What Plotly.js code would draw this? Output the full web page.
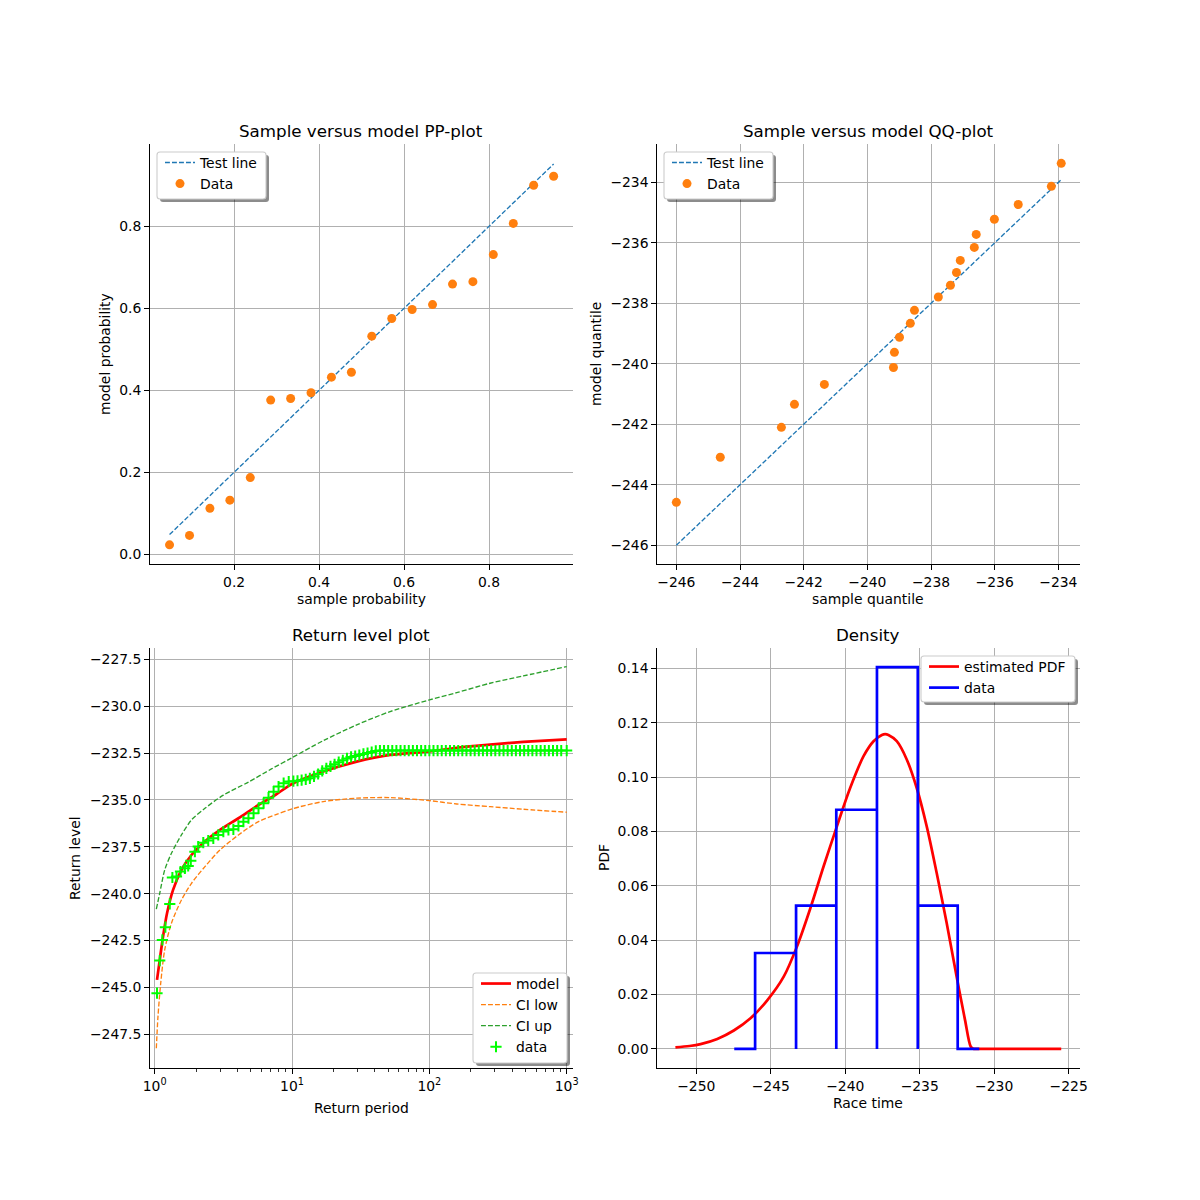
<!DOCTYPE html>
<html>
<head>
<meta charset="utf-8">
<script src="https://cdn.plot.ly/plotly-3.0.1.min.js"></script>
<style>
  body { margin: 0; background: #fff; }
  #chart { width: 1200px; height: 1200px; }
</style>
</head>
<body>
<div id="chart"></div>
<script>
// ---- PP-plot ----
var ppSample = [0.048, 0.095, 0.143, 0.190, 0.238, 0.286, 0.333, 0.381, 0.429, 0.476,
                0.524, 0.571, 0.619, 0.667, 0.714, 0.762, 0.810, 0.857, 0.905, 0.952];
var ppModel = [0.023, 0.046, 0.112, 0.132, 0.187, 0.376, 0.380, 0.394, 0.432, 0.444,
               0.532, 0.575, 0.597, 0.609, 0.659, 0.665, 0.731, 0.807, 0.900, 0.922];
var ppTestLine = [0.048, 0.952];
var ppTicks = [0.2, 0.4, 0.6, 0.8];
var ppYTicks = [0.0, 0.2, 0.4, 0.6, 0.8];

// ---- QQ-plot ----
var qqSample = [-246.00, -244.62, -242.70, -242.29, -241.35, -239.18, -239.15, -238.99, -238.65, -238.52,
                -237.77, -237.39, -237.20, -237.08, -236.64, -236.58, -236.01, -235.26, -234.22, -233.91];
var qqModel = [-244.58, -243.09, -242.10, -241.34, -240.68, -240.12, -239.62, -239.12, -238.66, -238.23,
               -237.79, -237.40, -236.98, -236.58, -236.15, -235.72, -235.22, -234.73, -234.13, -233.37];
var qqTestLine = [-246.0, -233.91];
var qqTicks = [-246, -244, -242, -240, -238, -236, -234];

// ---- Return level plot (return periods given as log10 values) ----
var rlModelLogT = [0.017, 0.037, 0.061, 0.090, 0.134, 0.195, 0.268, 0.366, 0.476, 0.610, 0.756,
                   0.878, 1.000, 1.228, 1.471, 1.714, 2.000, 2.199, 2.442, 2.684, 3.000];
var rlModel = [-244.60, -243.54, -242.29, -241.05, -239.80, -238.74, -237.94, -237.22, -236.60, -235.98, -235.27,
               -234.74, -234.15, -233.49, -232.96, -232.60, -232.42, -232.22, -232.05, -231.91, -231.77];
var rlCiUpLogT = [0.012, 0.037, 0.073, 0.122, 0.195, 0.268, 0.366, 0.500, 0.683, 0.850,
                  1.000, 1.228, 1.471, 1.714, 2.000, 2.199, 2.442, 2.684, 3.000];
var rlCiUp = [-240.83, -239.98, -238.74, -237.85, -236.87, -236.07, -235.45, -234.75, -234.05, -233.35,
              -232.75, -231.84, -231.00, -230.29, -229.67, -229.28, -228.78, -228.39, -227.89];
var rlCiLowLogT = [0.012, 0.024, 0.044, 0.073, 0.122, 0.195, 0.268, 0.366, 0.476, 0.610, 0.756, 0.878,
                   1.000, 1.228, 1.471, 1.714, 2.000, 2.199, 2.442, 2.684, 3.000];
var rlCiLow = [-248.25, -246.56, -244.78, -243.00, -241.58, -240.34, -239.45, -238.56, -237.67, -236.87, -236.16, -235.80,
               -235.48, -235.09, -234.91, -234.88, -235.04, -235.22, -235.36, -235.50, -235.66];
var rlDataLogT = [0.017, 0.037, 0.056, 0.078, 0.110, 0.129, 0.159, 0.188, 0.220, 0.244,
                  0.263, 0.293, 0.317, 0.354, 0.390, 0.427, 0.463, 0.500, 0.537, 0.573,
                  0.610, 0.646, 0.683, 0.720, 0.756, 0.793, 0.829, 0.866, 0.902, 0.939,
                  0.976, 1.010, 1.040, 1.070, 1.100, 1.130, 1.160, 1.190, 1.220, 1.250,
                  1.280, 1.310, 1.340, 1.370, 1.400, 1.430, 1.460, 1.490, 1.520, 1.550,
                  1.580, 1.610, 1.640, 1.670, 1.700, 1.730, 1.760, 1.790, 1.820, 1.850,
                  1.880, 1.910, 1.940, 1.970, 2.000, 2.030, 2.060, 2.090, 2.120, 2.150,
                  2.180, 2.210, 2.240, 2.270, 2.300, 2.330, 2.360, 2.390, 2.420, 2.450,
                  2.480, 2.510, 2.540, 2.570, 2.600, 2.630, 2.660, 2.690, 2.720, 2.750,
                  2.780, 2.810, 2.840, 2.870, 2.900, 2.930, 2.960, 3.000];
var rlData = [-245.31, -243.57, -242.47, -241.79, -240.55, -239.14, -239.09, -238.82, -238.65, -238.52,
              -238.24, -237.76, -237.49, -237.28, -237.17, -237.05, -236.87, -236.69, -236.60, -236.57,
              -236.39, -236.16, -235.98, -235.71, -235.45, -235.18, -234.88, -234.56, -234.29, -234.11,
              -234.02, -234.00, -233.98, -233.95, -233.91, -233.85, -233.75, -233.62, -233.45, -233.32,
              -233.21, -233.10, -232.99, -232.89, -232.79, -232.71, -232.66, -232.61, -232.55, -232.50,
              -232.45, -232.39, -232.37, -232.37, -232.37, -232.37, -232.37, -232.37, -232.37, -232.37,
              -232.37, -232.37, -232.37, -232.37, -232.37, -232.37, -232.37, -232.37, -232.37, -232.37,
              -232.37, -232.37, -232.37, -232.37, -232.37, -232.37, -232.37, -232.37, -232.37, -232.37,
              -232.37, -232.37, -232.37, -232.37, -232.37, -232.37, -232.37, -232.37, -232.37, -232.37,
              -232.37, -232.37, -232.37, -232.37, -232.37, -232.37, -232.37, -232.37];
var rlXTicks = [1, 10, 100, 1000];
var rlXTickText = ['10<sup>0</sup>', '10<sup>1</sup>', '10<sup>2</sup>', '10<sup>3</sup>'];
var rlXMinor = [2, 3, 4, 5, 6, 7, 8, 9, 20, 30, 40, 50, 60, 70, 80, 90, 200, 300, 400, 500, 600, 700, 800, 900];
var rlYTicks = [-247.5, -245.0, -242.5, -240.0, -237.5, -235.0, -232.5, -230.0, -227.5];

// ---- Density ----
var pdfX = [-251.40, -250.45, -249.71, -248.59, -247.48, -246.36, -245.25, -244.13, -243.24, -242.34,
            -241.45, -240.56, -239.67, -238.77, -238.10, -237.54, -237.32, -237.10, -236.54, -235.87,
            -235.20, -234.53, -233.86, -233.19, -232.52, -231.96, -231.58, -231.41];
var pdfY = [0.0006, 0.0011, 0.0018, 0.0037, 0.0068, 0.0113, 0.0178, 0.0266, 0.0377, 0.0518,
            0.0672, 0.0819, 0.0960, 0.1077, 0.1132, 0.1155, 0.1158, 0.1155, 0.1132, 0.1065,
            0.0960, 0.0819, 0.0647, 0.0463, 0.0266, 0.0107, 0.0009, 0.0000];
// flat zero part of the PDF past the upper bound
var pdfTailX = [-231.41, -225.50];
var pdfTailY = [0.0000, 0.0000];
var histEdges = [-246.05, -243.30, -240.60, -237.87, -235.13, -232.45];
var histHeights = [0.0353, 0.0527, 0.0880, 0.1405, 0.0527];
var histFrom = -247.45;
var histTo = -231.00;
var denXTicks = [-250, -245, -240, -235, -230, -225];
var denYTicks = [0.00, 0.02, 0.04, 0.06, 0.08, 0.10, 0.12, 0.14];

// build the step outline of the histogram
var histX = [histFrom];
var histY = [0];
for (var i = 0; i < histHeights.length; i++) {
  histX.push(histEdges[i], histEdges[i], histEdges[i + 1], histEdges[i + 1]);
  histY.push(0, histHeights[i], histHeights[i], 0);
}
histX.push(histTo);
histY.push(0);

function pow10(arr) { return arr.map(function(v) { return Math.pow(10, v); }); }

var FONT = 'DejaVu Sans, sans-serif';
var dashed = '4.9px,2.1px';

var traces = [
  {x: ppTestLine, y: ppTestLine, mode: 'lines', name: 'Test line', xaxis: 'x', yaxis: 'y', legend: 'legend',
   line: {color: '#1f77b4', width: 1.33, dash: dashed}},
  {x: ppSample, y: ppModel, mode: 'markers', name: 'Data', xaxis: 'x', yaxis: 'y', legend: 'legend',
   marker: {color: '#ff7f0e', size: 9}},

  {x: qqTestLine, y: qqTestLine, mode: 'lines', name: 'Test line', xaxis: 'x2', yaxis: 'y2', legend: 'legend2',
   line: {color: '#1f77b4', width: 1.33, dash: dashed}},
  {x: qqSample, y: qqModel, mode: 'markers', name: 'Data', xaxis: 'x2', yaxis: 'y2', legend: 'legend2',
   marker: {color: '#ff7f0e', size: 9}},

  {x: pow10(rlModelLogT), y: rlModel, mode: 'lines', name: 'model', xaxis: 'x3', yaxis: 'y3', legend: 'legend3',
   line: {color: '#ff0000', width: 2.7, shape: 'spline', smoothing: 0.8}},
  {x: pow10(rlCiLowLogT), y: rlCiLow, mode: 'lines', name: 'CI low', xaxis: 'x3', yaxis: 'y3', legend: 'legend3',
   line: {color: '#ff7f0e', width: 1.33, dash: dashed, shape: 'spline', smoothing: 0.8}},
  {x: pow10(rlCiUpLogT), y: rlCiUp, mode: 'lines', name: 'CI up', xaxis: 'x3', yaxis: 'y3', legend: 'legend3',
   line: {color: '#2ca02c', width: 1.33, dash: dashed, shape: 'spline', smoothing: 0.8}},
  {x: pow10(rlDataLogT), y: rlData, mode: 'markers', name: 'data', xaxis: 'x3', yaxis: 'y3', legend: 'legend3',
   marker: {symbol: 'cross-thin', size: 8, color: '#00ff00', line: {color: '#00ff00', width: 2}}},

  {x: pdfX, y: pdfY, mode: 'lines', name: 'estimated PDF', xaxis: 'x4', yaxis: 'y4', legend: 'legend4',
   line: {color: '#ff0000', width: 2.7, shape: 'spline', smoothing: 0.9}},
  {x: pdfTailX, y: pdfTailY, mode: 'lines', showlegend: false, xaxis: 'x4', yaxis: 'y4', legend: 'legend4',
   line: {color: '#ff0000', width: 2.7}},
  {x: histX, y: histY, mode: 'lines', name: 'data', xaxis: 'x4', yaxis: 'y4', legend: 'legend4',
   line: {color: '#0000ff', width: 2.7}}
];

function axis(extra) {
  var a = {
    showline: true, linecolor: 'black', linewidth: 1, mirror: false,
    ticks: 'outside', ticklen: 4.9, tickwidth: 1, tickcolor: 'black',
    showgrid: true, gridcolor: '#b0b0b0', gridwidth: 1, zeroline: false,
    tickfont: {family: FONT, size: 13.9, color: 'black'},
    tickmode: 'array', fixedrange: true
  };
  for (var k in extra) a[k] = extra[k];
  return a;
}

var colL = [0.125, 0.4773], colR = [0.5477, 0.9];
var rowT = [0.53, 0.88], rowB = [0.11, 0.46];

// pixel helpers (page is 1200 x 1200)
function px(x) { return x / 1200; }
function py(y) { return 1 - y / 1200; }

function roundRect(x0, y0, x1, y1, r) {
  return 'M' + px(x0 + r) + ',' + py(y0) +
    ' L' + px(x1 - r) + ',' + py(y0) + ' Q' + px(x1) + ',' + py(y0) + ' ' + px(x1) + ',' + py(y0 + r) +
    ' L' + px(x1) + ',' + py(y1 - r) + ' Q' + px(x1) + ',' + py(y1) + ' ' + px(x1 - r) + ',' + py(y1) +
    ' L' + px(x0 + r) + ',' + py(y1) + ' Q' + px(x0) + ',' + py(y1) + ' ' + px(x0) + ',' + py(y1 - r) +
    ' L' + px(x0) + ',' + py(y0 + r) + ' Q' + px(x0) + ',' + py(y0) + ' ' + px(x0 + r) + ',' + py(y0) + ' Z';
}

function legendBox(x0, y0, x1, y1) {
  return [
    {type: 'path', xref: 'paper', yref: 'paper', layer: 'above', path: roundRect(x0 + 3, y0 + 3, x1 + 3, y1 + 3, 3),
     fillcolor: 'rgba(0,0,0,0.45)', line: {width: 0}},
    {type: 'path', xref: 'paper', yref: 'paper', layer: 'above', path: roundRect(x0, y0, x1, y1, 3),
     fillcolor: 'white', line: {color: '#cccccc', width: 1.1}}
  ];
}

function legendAt(x, y) {
  return {x: px(x), y: py(y), xanchor: 'left', yanchor: 'top', bgcolor: 'rgba(0,0,0,0)', borderwidth: 0,
          font: {family: FONT, size: 13.9, color: 'black'}, itemwidth: 30, tracegroupgap: 0};
}

var shapes = [].concat(
  legendBox(157, 152, 266, 199),
  legendBox(664, 152, 773, 199),
  legendBox(473, 973, 567, 1063),
  legendBox(921, 656, 1075, 702)
);

function label(text, x, y, rot, size) {
  return {text: text, x: px(x), y: py(y), xref: 'paper', yref: 'paper', showarrow: false,
          xanchor: 'center', yanchor: 'middle', textangle: rot || 0,
          font: {family: FONT, size: size || 13.9, color: 'black'}};
}

var annotations = [
  label('Sample versus model PP-plot', 361, 131, 0, 16.7),
  label('Sample versus model QQ-plot', 868, 131, 0, 16.7),
  label('Return level plot', 361, 635, 0, 16.7),
  label('Density', 868, 635, 0, 16.7),
  label('sample probability', 361, 599),
  label('model probability', 105, 354, -90),
  label('sample quantile', 868, 599),
  label('model quantile', 596, 354, -90),
  label('Return period', 361, 1108),
  label('Return level', 75, 858, -90),
  label('Race time', 868, 1103),
  label('PDF', 604, 858, -90)
];

var layout = {
  width: 1200, height: 1200,
  margin: {l: 0, r: 0, t: 0, b: 0},
  paper_bgcolor: 'white', plot_bgcolor: 'white',
  font: {family: FONT, size: 13.9, color: 'black'},
  showlegend: true,
  xaxis: axis({domain: colL, anchor: 'y', range: [0.002, 0.997], tickvals: ppTicks, tickformat: '.1f'}),
  yaxis: axis({domain: rowT, anchor: 'x', range: [-0.0237, 1.0007], tickvals: ppYTicks, tickformat: '.1f'}),
  xaxis2: axis({domain: colR, anchor: 'y2', range: [-246.6, -233.32], tickvals: qqTicks}),
  yaxis2: axis({domain: rowT, anchor: 'x2', range: [-246.62, -232.73], tickvals: qqTicks}),
  xaxis3: axis({domain: colL, anchor: 'y3', type: 'log', range: [-0.034, 3.044],
                tickvals: rlXTicks, ticktext: rlXTickText,
                minor: {tickmode: 'array', tickvals: rlXMinor, ticks: 'outside', ticklen: 2.8,
                        tickwidth: 0.8, tickcolor: 'black', showgrid: false}}),
  yaxis3: axis({domain: rowB, anchor: 'x3', range: [-249.3, -226.9], tickvals: rlYTicks, tickformat: '.1f'}),
  xaxis4: axis({domain: colR, anchor: 'y4', range: [-252.62, -224.24], tickvals: denXTicks}),
  yaxis4: axis({domain: rowB, anchor: 'x4', range: [-0.007, 0.1475], tickvals: denYTicks, tickformat: '.2f'}),
  legend: legendAt(160, 147),
  legend2: legendAt(667, 147),
  legend3: legendAt(476, 968),
  legend4: legendAt(924, 651),
  shapes: shapes,
  annotations: annotations
};

Plotly.newPlot('chart', traces, layout, {staticPlot: true});
</script>
</body>
</html>
